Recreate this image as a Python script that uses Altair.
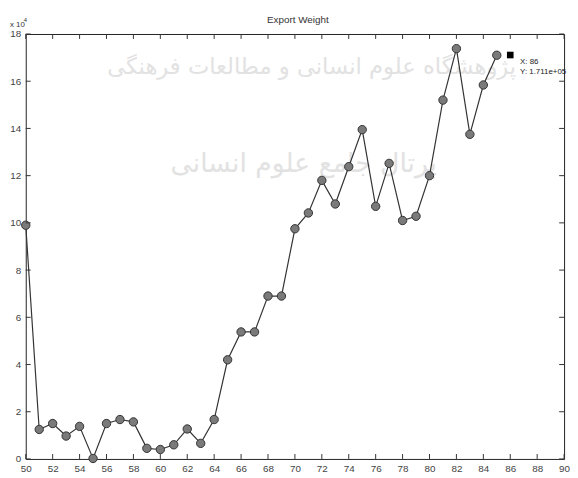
import altair as alt
import pandas as pd

# Export weight (x 10^4) by year
years = list(range(50, 86))
weight = [9.9, 1.25, 1.5, 0.97, 1.38, 0.02, 1.5, 1.67, 1.57, 0.45,
          0.4, 0.6, 1.27, 0.66, 1.67, 4.2, 5.38, 5.38, 6.9, 6.9,
          9.75, 10.42, 11.8, 10.8, 12.38, 13.95, 10.7, 12.52, 10.1, 10.28,
          12.0, 15.2, 17.38, 13.75, 15.84, 17.1]
tip_year = [86]
tip_value = [17.11]
tip_text = ["X: 86", "Y: 1.711e+05"]
x_ticks = list(range(50, 91, 2))
y_ticks = list(range(0, 19, 2))
title_text = "Export Weight"
watermark_1 = "پژوهشگاه علوم انسانی و مطالعات فرهنگی"
watermark_2 = "پرتال جامع علوم انسانی"

W, H = 546, 431
xs = alt.Scale(domain=[50, 90], nice=False, zero=False)
ys = alt.Scale(domain=[0, 18], nice=False, zero=False)

df = pd.DataFrame({"year": years, "w": weight})
tip_df = pd.DataFrame({"year": tip_year, "w": tip_value})
xt = pd.DataFrame({"t": x_ticks})
yt = pd.DataFrame({"t": y_ticks})

xaxis = alt.Axis(values=x_ticks, title=None, grid=False, ticks=False, domain=False,
                 labelFontSize=10, labelColor="#444", labelPadding=5, labelFlush=False,
                 labelOverlap=False, labelFont="Liberation Sans")
yaxis = alt.Axis(values=y_ticks, title=None, grid=False, ticks=False, domain=False,
                 labelFontSize=10, labelColor="#444", labelPadding=5, labelOverlap=False,
                 labelFont="Liberation Sans")


def text_chart(txt, x, y, size, color, font="Liberation Sans", align="center"):
    return alt.Chart(pd.DataFrame({"t": [txt]})).mark_text(
        fontSize=size, color=color, font=font, align=align, baseline="middle"
    ).encode(x=alt.value(x), y=alt.value(y), text="t:N")


wm1 = text_chart(watermark_1, 290, 34, 23, "#e2e2e2", font="DejaVu Sans")
wm2 = text_chart(watermark_2, 282, 132, 27, "#e2e2e2", font="DejaVu Sans")

line = alt.Chart(df).mark_line(color="#333333", strokeWidth=1.2, clip=False).encode(
    x=alt.X("year:Q", scale=xs, axis=xaxis),
    y=alt.Y("w:Q", scale=ys, axis=yaxis),
)
pts = alt.Chart(df).mark_point(shape="circle", filled=True, size=72, color="#7a7a7a",
                               stroke="#333333", strokeWidth=1, opacity=1, clip=False).encode(
    x=alt.X("year:Q", scale=xs, axis=xaxis), y=alt.Y("w:Q", scale=ys, axis=yaxis))

tip = alt.Chart(tip_df).mark_square(size=45, color="#000000", opacity=1).encode(
    x=alt.X("year:Q", scale=xs, axis=xaxis), y=alt.Y("w:Q", scale=ys, axis=yaxis))
tip_t1 = alt.Chart(tip_df).mark_text(text=tip_text[0], fontSize=8, align="left", dx=10, dy=7,
                                     color="#222", font="Liberation Sans", clip=False).encode(
    x=alt.X("year:Q", scale=xs, axis=xaxis), y=alt.Y("w:Q", scale=ys, axis=yaxis))
tip_t2 = alt.Chart(tip_df).mark_text(text=tip_text[1], fontSize=8, align="left", dx=10, dy=17,
                                     color="#222", font="Liberation Sans", clip=False).encode(
    x=alt.X("year:Q", scale=xs, axis=xaxis), y=alt.Y("w:Q", scale=ys, axis=yaxis))

# inward ticks on all four sides
tb = alt.Chart(xt).mark_rule(color="#333", strokeWidth=1).encode(
    x=alt.X("t:Q", scale=xs, axis=xaxis), y=alt.value(H), y2=alt.value(H - 5))
tt = alt.Chart(xt).mark_rule(color="#333", strokeWidth=1).encode(
    x=alt.X("t:Q", scale=xs, axis=xaxis), y=alt.value(0), y2=alt.value(5))
tl = alt.Chart(yt).mark_rule(color="#333", strokeWidth=1).encode(
    y=alt.Y("t:Q", scale=ys, axis=yaxis), x=alt.value(0), x2=alt.value(5))
tr = alt.Chart(yt).mark_rule(color="#333", strokeWidth=1).encode(
    y=alt.Y("t:Q", scale=ys, axis=yaxis), x=alt.value(W), x2=alt.value(W - 5))

title = text_chart(title_text, W / 2 + 3, -14, 10, "#333")
exp_a = text_chart("x 10", -16, -9, 8, "#333", align="left")
exp_b = text_chart("4", -2, -14, 6, "#333", align="left")

chart = alt.layer(wm1, wm2, line, pts, tip, tip_t1, tip_t2, tb, tt, tl, tr,
                  title, exp_a, exp_b).properties(
    width=W, height=H,
    autosize=alt.AutoSizeParams(type="none"),
    padding={"left": 18, "top": 23, "right": 6, "bottom": 20},
).configure_view(stroke="#222222", strokeWidth=1).configure_axis(labelOverlap=False)

chart.save("out.html", embed_options={"renderer": "svg", "actions": False})
